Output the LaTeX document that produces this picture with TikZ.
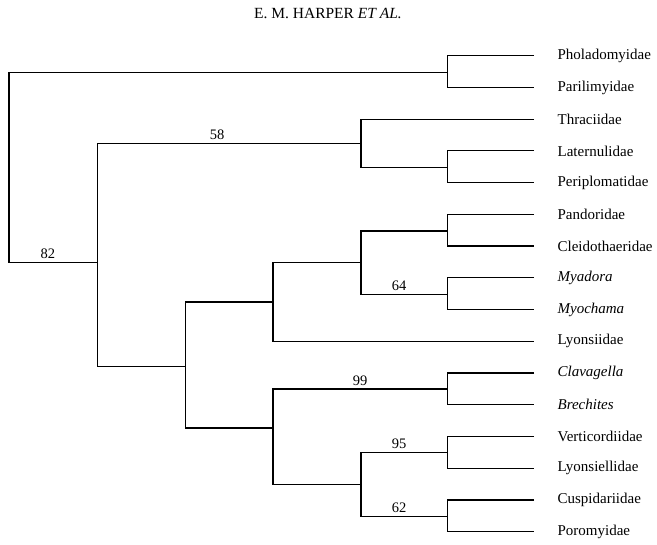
\documentclass[tikz,border=0pt]{standalone}
\usepackage{fontspec}
\setmainfont{Liberation Serif}
\begin{document}
\begin{tikzpicture}[x=1pt,y=-1pt,line width=1.2pt,
  every node/.style={inner sep=0pt,font=\fontsize{15}{18}\selectfont},
  taxon/.style={anchor=west},
  support/.style={anchor=base,font=\fontsize{14.5}{17}\selectfont}]
\useasboundingbox (0,0) rectangle (657,545);
\node[font=\fontsize{15.5}{18}\selectfont] (title) at (328,13) {E. M. HARPER \textit{ET AL.}};
% leaves and their names
\foreach \name [count=\i from 0] in {Pholadomyidae,Parilimyidae,Thraciidae,
  Laternulidae,Periplomatidae,Pandoridae,Cleidothaeridae,\textit{Myadora},
  \textit{Myochama},Lyonsiidae,\textit{Clavagella},\textit{Brechites},
  Verticordiidae,Lyonsiellidae,Cuspidariidae,Poromyidae}
{
  \coordinate (l\i) at (534,55.7+31.73*\i);
  \node[taxon] (t\i) at (557,55.7+31.73*\i) {\name};
}
% internal nodes
\coordinate (ph) at (447.3,72.3);
\coordinate (lp) at (447.3,167.3);
\coordinate (th) at (361,143.3);
\coordinate (pc) at (447.3,231);
\coordinate (mm) at (447.3,294.3);
\coordinate (pm) at (361,262.7);
\coordinate (ly) at (273,302);
\coordinate (cb) at (447.3,389);
\coordinate (vl) at (447.3,452.7);
\coordinate (cp) at (447.3,516.7);
\coordinate (vc) at (361,484.3);
\coordinate (cv) at (273,428);
\coordinate (lo) at (185.5,366.7);
\coordinate (ca) at (97.7,262.7);
\coordinate (root) at (9,167);
% branches
\draw (l0) -| (ph) |- (l1);
\draw (l3) -| (lp) |- (l4);
\draw (l2) -| (th) |- (lp);
\draw (l5) -| (pc) |- (l6);
\draw (l7) -| (mm) |- (l8);
\draw (pc) -| (pm) |- (mm);
\draw (pm) -| (ly) |- (l9);
\draw (l10) -| (cb) |- (l11);
\draw (l12) -| (vl) |- (l13);
\draw (l14) -| (cp) |- (l15);
\draw (vl) -| (vc) |- (cp);
\draw (cb) -| (cv) |- (vc);
\draw (ly) -| (lo) |- (cv);
\draw (th) -| (ca) |- (lo);
\draw (ph) -| (root) |- (ca);
% support values
\node[support] (s82) at (48,259) {82};
\node[support] (s58) at (217,139.5) {58};
\node[support] (s64) at (399,290.5) {64};
\node[support] (s99) at (360,385.5) {99};
\node[support] (s95) at (399,449) {95};
\node[support] (s62) at (399,513) {62};
\end{tikzpicture}
\end{document}
